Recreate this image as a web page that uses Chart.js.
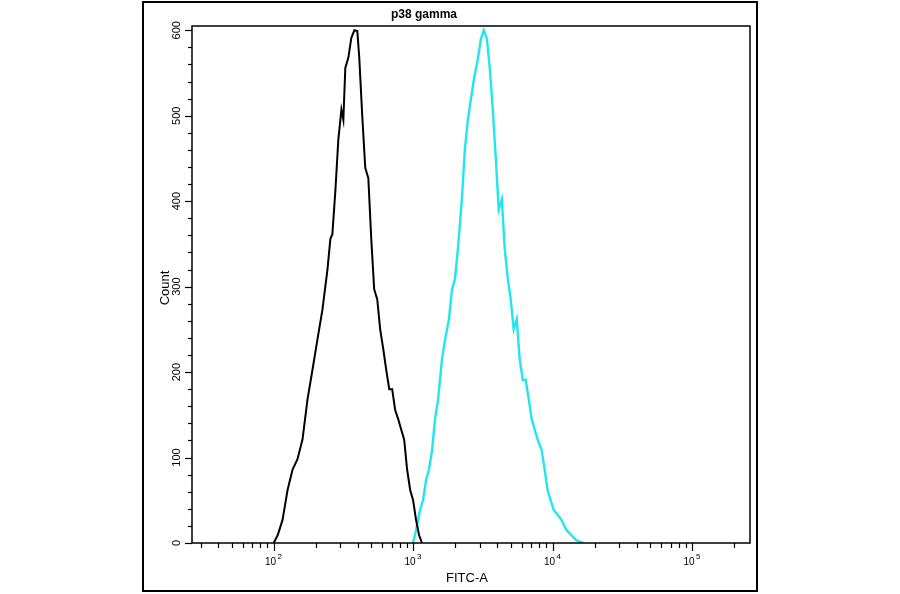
<!DOCTYPE html><html><head><script src="https://cdn.jsdelivr.net/npm/chart.js@4"></script>
<style>body{margin:0;background:#fff}#w{width:900px;height:594px}</style></head><body><div id="w"><canvas id="c"></canvas></div>
<script>
const isoLog=[2.0,2.029,2.064,2.1,2.136,2.171,2.207,2.243,2.279,2.314,2.35,2.386,2.407,2.421,2.443,2.464,2.486,2.5,2.514,2.536,2.557,2.579,2.6,2.614,2.636,2.657,2.679,2.7,2.721,2.743,2.764,2.786,2.807,2.829,2.85,2.871,2.893,2.914,2.936,2.957,2.979,3.0,3.021,3.043,3.064];
const isoCount=[0,9,27,62,86,98,121,168,203,238,273,320,356,361,413,472,507,495,556,568,591,600,599,568,498,439,427,356,297,285,250,227,203,180,180,156,145,133,121,86,62,50,27,9,0];
const p38Log=[3.0,3.021,3.05,3.071,3.093,3.114,3.136,3.157,3.179,3.207,3.229,3.257,3.279,3.3,3.321,3.35,3.371,3.393,3.414,3.436,3.464,3.486,3.507,3.529,3.55,3.571,3.593,3.614,3.636,3.657,3.679,3.7,3.721,3.743,3.764,3.786,3.807,3.829,3.85,3.871,3.893,3.921,3.943,3.964,3.986,4.007,4.036,4.064,4.1,4.136,4.171,4.221];
const p38Count=[0,15,39,50,74,86,109,145,168,215,238,262,297,309,344,403,461,496,519,543,566,590,600,590,555,508,449,390,402,344,309,285,250,262,215,191,191,168,145,133,121,109,86,62,50,39,33,27,15,9,3,0];
const yTicks=[0,100,200,300,400,500,600];
const xDecades=[2,3,4,5];
const title="p38 gamma", xTitle="FITC-A", yTitle="Count";
const pts=(l,c)=>l.map((v,i)=>({x:Math.pow(10,v),y:c[i]}));
const deco={id:'deco',afterDraw(ch){
 const g=ch.ctx,x=ch.scales.x,y=ch.scales.y,a=ch.chartArea;
 g.save();g.strokeStyle='#000';g.fillStyle='#000';
 g.lineWidth=2;g.strokeRect(143,2,614,589);
 g.lineWidth=1.5;g.strokeRect(a.left,a.top,a.right-a.left,a.bottom-a.top);
 g.lineWidth=1.2;
 for(let v=0;v<=600;v+=20){const p=Math.round(y.getPixelForValue(v))+.5;const L=v%100===0?7:4;g.beginPath();g.moveTo(a.left-L,p);g.lineTo(a.left,p);g.stroke();}
 for(let d=1;d<=5;d++)for(let m=1;m<10;m++){const v=m*Math.pow(10,d);if(v<x.min||v>x.max)continue;const p=Math.round(x.getPixelForValue(v))+.5;const L=m===1?8:5;g.beginPath();g.moveTo(p,a.bottom);g.lineTo(p,a.bottom+L);g.stroke();}
 g.font='11px "Liberation Sans",Arial';g.textAlign='center';g.textBaseline='middle';
 yTicks.forEach(v=>{const p=y.getPixelForValue(v);g.save();g.translate(a.left-15,p);g.rotate(-Math.PI/2);g.fillText(String(v),0,0);g.restore();});
 xDecades.forEach(d=>{const p=x.getPixelForValue(Math.pow(10,d));g.font='10px "Liberation Sans",Arial';g.fillText('10',p-3,a.bottom+19);g.font='8px "Liberation Sans",Arial';g.fillText(String(d),p+6,a.bottom+14);});
 g.font='13px "Liberation Sans",Arial';g.fillText(xTitle,467,578);
 g.save();g.translate(165,288);g.rotate(-Math.PI/2);g.fillText(yTitle,0,0);g.restore();
 g.font='bold 12px "Liberation Sans",Arial';g.fillText(title,424,15);
 g.restore();}};
new Chart(document.getElementById('c'),{type:'line',
 data:{datasets:[
  {data:pts(isoLog,isoCount),borderColor:'#000',borderWidth:2,pointRadius:0,tension:0,fill:false},
  {data:pts(p38Log,p38Count),borderColor:'#22e6ee',borderWidth:2.4,pointRadius:0,tension:0,fill:false}]},
 options:{responsive:true,maintainAspectRatio:false,animation:false,devicePixelRatio:1,
  layout:{padding:{left:184,right:150,top:26,bottom:43}},
  plugins:{legend:{display:false},tooltip:{enabled:false}},
  scales:{x:{type:'logarithmic',min:26,max:260000,ticks:{display:false},grid:{display:false},border:{display:false}},
   y:{min:0,max:605,ticks:{display:false},grid:{display:false},border:{display:false}}}},
 plugins:[deco]});
</script></body></html>
